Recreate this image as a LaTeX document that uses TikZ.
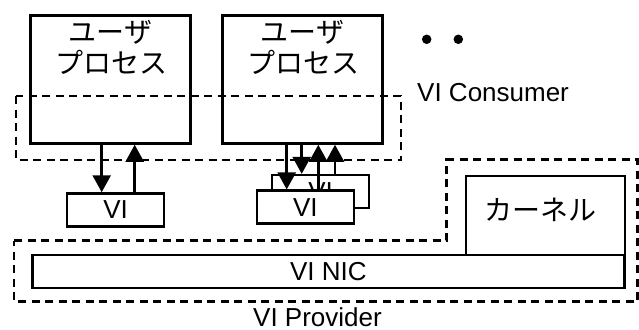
\documentclass[tikz,border=0pt]{standalone}
\usepackage{fontspec}
\setmainfont{Liberation Sans}
\newfontfamily\cjk{Noto Sans CJK JP}
\usetikzlibrary{arrows.meta}
\tikzset{
  box/.style={draw=black, line width=2.5pt, fill=white, inner sep=0pt, font=\fontsize{26}{30}\selectfont},
  jtext/.style={inner sep=0pt, font=\cjk\fontsize{28}{30}\selectfont, anchor=base},
  ltext/.style={inner sep=0pt, font=\fontsize{26}{30}\selectfont},
  arr/.style={line width=2.5pt, -{Triangle[length=17pt,width=18pt]}},
  dashbox/.style={line width=2.4pt, dash pattern=on 8pt off 5.5pt},
  dot/.style={circle, fill=black, inner sep=0pt, minimum size=9.5pt}
}
\begin{document}
\begin{tikzpicture}[x=1pt,y=-1pt]
\fill[white] (0,0) rectangle (639,329);
\useasboundingbox (0,0) rectangle (639,329);

% user processes
\node[box, minimum width=160pt, minimum height=128pt] (up1) at (110.5,79.5) {};
\node[box, minimum width=160pt, minimum height=128pt] (up2) at (302.5,79.5) {};
\node[jtext] (u1a) at (110.5,42) {ユーザ};
\node[jtext] (u1b) at (111.5,73.5) {プロセス};
\node[jtext] (u2a) at (302.5,42) {ユーザ};
\node[jtext] (u2b) at (303.5,73.5) {プロセス};

% dots
\node[dot] (d1) at (426.7,39.3) {};
\node[dot] (d2) at (458.3,39.3) {};

% VI consumer dashed box
\draw[dashbox] (16,96) rectangle (401,160);
\node[ltext, anchor=west] (cons) at (417,92.5) {VI Consumer};

% VI boxes
\node[box, minimum width=97pt, minimum height=33pt] (vi1) at (115.6,210) {VI};
\node[box, minimum width=97pt, minimum height=33pt] (vi2b) at (320.6,191.6) {VI};
\node[box, minimum width=97pt, minimum height=33pt] (vi2f) at (305.3,207.2) {VI};

% kernel and NIC
\node[box, minimum width=159pt, minimum height=79pt] (kern) at (545.5,215.5) {};
\node[jtext] (kt) at (540,220) {カーネル};
\node[box, minimum width=592pt, minimum height=33pt] (nic) at (328.4,271.7) {VI NIC};

% provider dashed outline
\draw[dashbox] (14,240.5) -- (446.5,240.5) -- (446.5,159.5) -- (637.5,159.5) -- (637.5,301.5) -- (14,301.5) -- cycle;
\node[ltext, anchor=base] (prov) at (317.5,326) {VI Provider};

% arrows group 1
\draw[arr] ([xshift=-8.8pt]up1.south) -- ([xshift=-8.8pt]up1.south |- vi1.north);
\draw[arr] ([xshift=24.2pt]up1.south |- vi1.north) -- ([xshift=24.2pt]up1.south);

% arrows group 2
\draw[arr] ([xshift=-15.8pt]up2.south) -- ([xshift=-15.8pt]up2.south |- vi2f.north);
\draw[arr] ([xshift=-0.8pt]up2.south) -- ([xshift=-0.8pt]up2.south |- vi2b.north);
\draw[arr] ([xshift=15.8pt]up2.south |- vi2f.north) -- ([xshift=15.8pt]up2.south);
\draw[arr] ([xshift=32.5pt]up2.south |- vi2b.north) -- ([xshift=32.5pt]up2.south);
\end{tikzpicture}
\end{document}
